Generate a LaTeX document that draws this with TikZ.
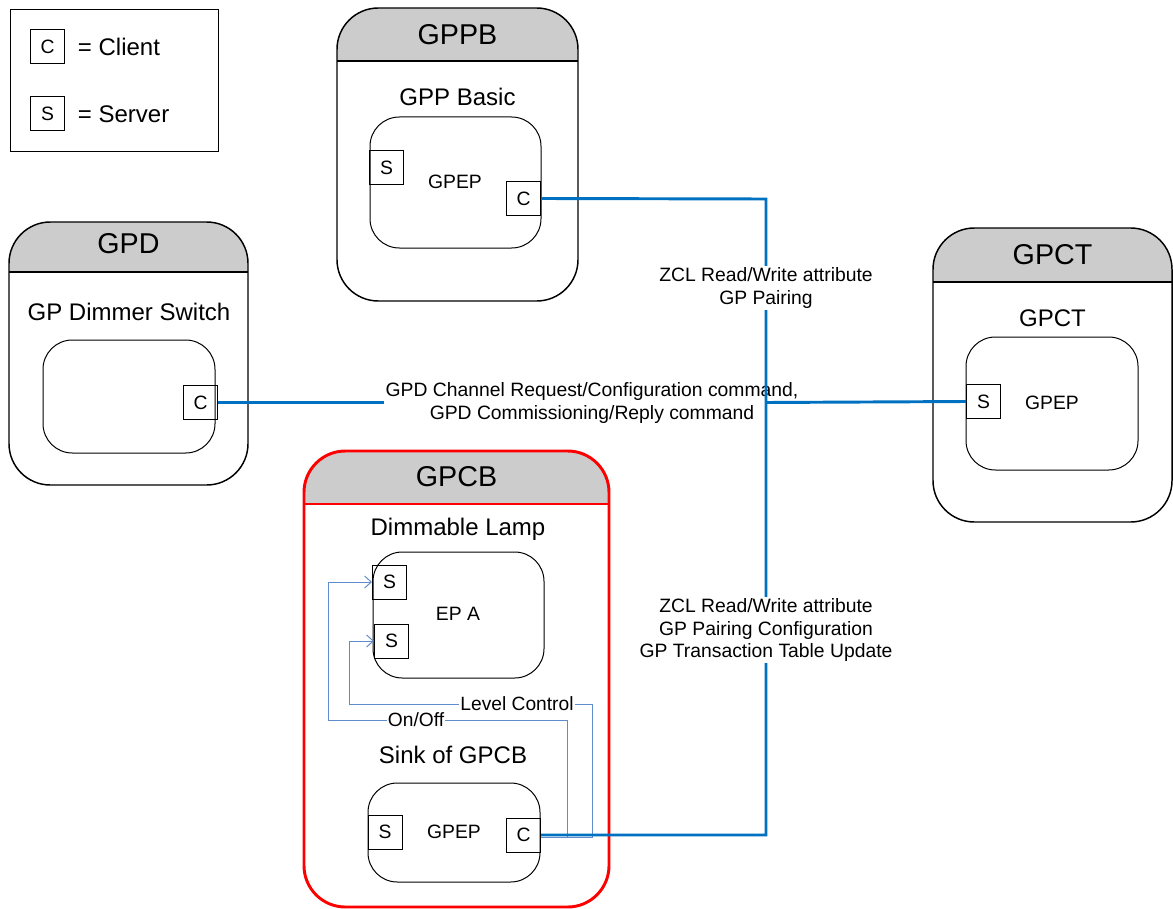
\documentclass[tikz,border=0pt]{standalone}
\usepackage{fontspec}
\setmainfont{Liberation Sans}
\usetikzlibrary{arrows.meta}

\definecolor{hdrgray}{RGB}{204,204,204}
\definecolor{busblue}{RGB}{0,112,192}
\definecolor{linkblue}{RGB}{95,140,205}

\tikzset{every picture/.style={line width=0.75pt}}
\tikzset{
  port/.style={draw, line width=0.75pt, minimum width=25.5pt, minimum height=25.5pt, inner sep=0pt, font=\fontsize{14.5}{16}\selectfont},
  hdr/.style={font=\fontsize{21.5}{24}\selectfont},
  subttl/.style={font=\fontsize{18}{21}\selectfont},
  eptxt/.style={font=\fontsize{14.5}{17}\selectfont},
  lbl/.style={fill=white, inner sep=1pt, align=center, font=\fontsize{14.5}{17}\selectfont},
  thinlbl/.style={fill=white, inner sep=1pt, font=\fontsize{14.4}{17}\selectfont},
  bus/.style={draw=busblue, line width=2.2pt},
  link/.style={draw=linkblue, line width=0.75pt},
  outerbox/.style={draw, line width=1.1pt, rounded corners=31pt},
  epbox/.style={draw, line width=0.75pt, rounded corners=22pt}
}

\begin{document}
\begin{tikzpicture}[x=0.75pt,y=0.75pt,yscale=-1,xscale=1]
\useasboundingbox (0,0) rectangle (1173,909);

% Legend
\draw [line width=0.75pt] (10,10) rectangle (218,152);
\node [port] (legC) at (47.5,47) {C};
\node [anchor=west, subttl] (legCtxt) at (73,47) {= Client};
\node [port] (legS) at (47.5,114) {S};
\node [anchor=west, subttl] (legStxt) at (73,114) {= Server};

% GPPB
\begin{scope}
\clip [rounded corners=31pt] (337,8) rectangle (578,301);
\fill [hdrgray] (337,8) rectangle (578,61);
\end{scope}
\draw [outerbox] (337,8) rectangle (578,301);
\draw [line width=1.1pt] (337,61) -- (578,61);
\node [hdr] (ppbHdr) at (457.5,35) {GPPB};
\node [subttl] (ppbTtl) at (457.5,97) {GPP Basic};
\draw [epbox] (370,117) rectangle (541,248);
\node [eptxt] (ppbEp) at (455,182) {GPEP};
\node [port] (ppbS) at (386.5,168) {S};
\node [port] (ppbC) at (523.5,198.5) {C};

% GPD
\begin{scope}
\clip [rounded corners=31pt] (9,222) rectangle (248,485);
\fill [hdrgray] (9,222) rectangle (248,272);
\end{scope}
\draw [outerbox] (9,222) rectangle (248,485);
\draw [line width=1.1pt] (9,272) -- (248,272);
\node [hdr] (gpdHdr) at (128.5,244) {GPD};
\node [subttl] (gpdTtl) at (129,312) {GP Dimmer Switch};
\draw [epbox] (43,340) rectangle (215,453);
\node [port] (gpdC) at (200.5,402.5) {C};

% GPCT
\begin{scope}
\clip [rounded corners=31pt] (933,228) rectangle (1172,522);
\fill [hdrgray] (933,228) rectangle (1172,282);
\end{scope}
\draw [outerbox] (933,228) rectangle (1172,522);
\draw [line width=1.1pt] (933,282) -- (1172,282);
\node [hdr] (ctHdr) at (1052.5,255) {GPCT};
\node [subttl] (ctTtl) at (1052.5,318) {GPCT};
\draw [epbox] (966,337) rectangle (1138,470);
\node [eptxt] (ctEp) at (1052,403) {GPEP};
\node [port] (ctS) at (983.5,401.5) {S};

% GPCB
\begin{scope}
\clip [rounded corners=31pt] (304,451) rectangle (609,907);
\fill [hdrgray] (304,451) rectangle (609,504);
\end{scope}
\draw [outerbox, draw=red, line width=2.2pt] (304,451) rectangle (609,907);
\draw [red, line width=2.2pt] (304,504) -- (609,504);
\node [hdr] (cbHdr) at (456.5,477) {GPCB};
\node [subttl] (cbTtl) at (458,529) {Dimmable Lamp};
\draw [epbox] (373,552) rectangle (544,678);
\node [eptxt] (epA) at (458,614) {EP A};
\node [port] (epS1) at (389.5,582) {S};
\node [port] (epS2) at (391.5,641) {S};
\node [subttl] (sinkTtl) at (453,755) {Sink of GPCB};
\draw [epbox] (368,783) rectangle (540,882);
\node [eptxt] (cbEp) at (454,832) {GPEP};
\node [port] (cbS) at (385,832) {S};
\node [port] (cbC) at (523.5,835) {C};

% Thin links inside GPCB
\coordinate (lvlTurn) at (592,704);
\coordinate (lvlUp) at (349,641);
\coordinate (onTurn) at (567,720);
\coordinate (onUp) at (328,582);
\draw [link, -{Straight Barb[length=5pt,width=9pt]}] ([yshift=2pt]cbC.east) -| (lvlTurn) -| (lvlUp) -- (epS2.west);
\draw [link, -{Straight Barb[length=5pt,width=9pt]}] ([yshift=2pt]cbC.east) -| (onTurn) -| (onUp) -- (epS1.west);
\node [thinlbl] (lvlLbl) at (517,704) {Level Control};
\node [thinlbl] (onLbl) at (416,720) {On/Off};

% GPD commissioning link
\coordinate (busTop) at (766,199);
\coordinate (busBot) at (766,835);
\coordinate (busJct) at (766,402.5);
\draw [bus] (gpdC.east) -- (busJct);
\node [lbl] (gpdLbl) at (592,403) {GPD Channel Request/Configuration command,\\GPD Commissioning/Reply command};
\draw [bus] (busJct) -- (ctS.west);

% ZCL bus
\draw [bus] (ppbC.east) -- (busTop) -- (busBot) -- (cbC.east);
\node [lbl] (zclLblA) at (766,288) {ZCL Read/Write attribute\\GP Pairing};
\node [lbl] (zclLblB) at (766,630) {ZCL Read/Write attribute\\GP Pairing Configuration\\GP Transaction Table Update};

\end{tikzpicture}
\end{document}
